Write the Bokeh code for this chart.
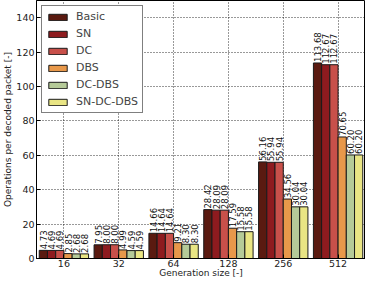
import numpy as np
from bokeh.plotting import figure
from bokeh.models import (ColumnDataSource, FactorRange, Range1d, FixedTicker,
                          Legend, LegendItem)
from bokeh.transform import dodge
from bokeh.core.properties import value
from bokeh.embed import file_html
from bokeh.resources import INLINE

categories = ["16", "32", "64", "128", "256", "512"]
series = ["Basic", "SN", "DC", "DBS", "DC-DBS", "SN-DC-DBS"]
basic = [4.73, 7.95, 14.66, 28.42, 56.16, 113.68]
sn = [4.69, 8.00, 14.64, 28.09, 55.94, 112.67]
dc = [4.69, 8.00, 14.64, 28.09, 55.94, 112.67]
dbs = [2.85, 4.99, 9.21, 17.59, 34.56, 70.65]
dc_dbs = [2.68, 4.59, 8.30, 15.58, 30.04, 60.20]
sn_dc_dbs = [2.68, 4.59, 8.30, 15.58, 30.04, 60.20]
y_ticks = [0, 20, 40, 60, 80, 100, 120, 140]

colors = ["#5a1a10", "#8e1b1f", "#c8504a", "#e8984a", "#b5ca98", "#e9e584"]
values_list = [basic, sn, dc, dbs, dc_dbs, sn_dc_dbs]

FONT = "DejaVu Sans"

p = figure(width=365, height=280, x_range=FactorRange(*categories),
           y_range=Range1d(0, 150), output_backend="svg", toolbar_location=None,
           min_border_left=35, min_border_right=0, min_border_top=0,
           min_border_bottom=18)

p.outline_line_color = "black"
p.outline_line_width = 1

bar_w = 0.15
offsets = [-0.375, -0.225, -0.075, 0.075, 0.225, 0.375]
items = []
for name, vals, col, off in zip(series, values_list, colors, offsets):
    src = ColumnDataSource(dict(cat=categories, val=vals,
                                lab=["%.2f" % v for v in vals]))
    r = p.vbar(x=dodge("cat", off, range=p.x_range), top="val", width=bar_w,
               source=src, fill_color=col, line_color="#1a1a1a", line_width=1)
    p.text(x=dodge("cat", off, range=p.x_range), y="val", text="lab", source=src,
           angle=np.pi / 2, text_align="left", text_baseline="middle",
           text_font=value(FONT), text_font_size="8.5px", text_color="#111111",
           y_offset=-1)
    items.append(LegendItem(label=name, renderers=[r]))

legend = Legend(items=items, location="top_left",
                label_text_font=FONT, label_text_font_size="11px",
                glyph_width=23, glyph_height=8, label_standoff=7,
                spacing=4, padding=4, margin=5,
                border_line_color="black", border_line_width=1,
                background_fill_alpha=1.0, label_height=11)
p.add_layout(legend)

for ax in [p.xaxis[0], p.yaxis[0]]:
    ax.major_tick_in = 4
    ax.major_tick_out = 0
    ax.minor_tick_in = 0
    ax.minor_tick_out = 0
    ax.axis_line_color = "black"
    ax.major_tick_line_color = "black"
    ax.major_label_text_font = FONT
    ax.major_label_text_font_size = "9.5px"
    ax.major_label_text_color = "#222222"
    ax.axis_label_text_font = FONT
    ax.axis_label_text_font_size = "9px"
    ax.axis_label_text_font_style = "normal"
    ax.axis_label_text_color = "#222222"

p.xaxis.axis_label = "Generation size [-]"
p.xaxis.major_label_standoff = 1
p.xaxis.axis_label_standoff = -2
p.yaxis.axis_label = "Operations per decoded packet [-]"
p.yaxis.ticker = FixedTicker(ticks=y_ticks)
p.yaxis.major_label_standoff = 2
p.yaxis.axis_label_standoff = 0

p.xgrid.grid_line_color = "black"
p.ygrid.grid_line_color = "black"
p.xgrid.grid_line_dash = "1 2"
p.ygrid.grid_line_dash = "1 2"
p.xgrid.grid_line_alpha = 0.8
p.ygrid.grid_line_alpha = 0.8
p.x_range.range_padding = 0

open("out.html", "w").write(file_html(p, INLINE))
